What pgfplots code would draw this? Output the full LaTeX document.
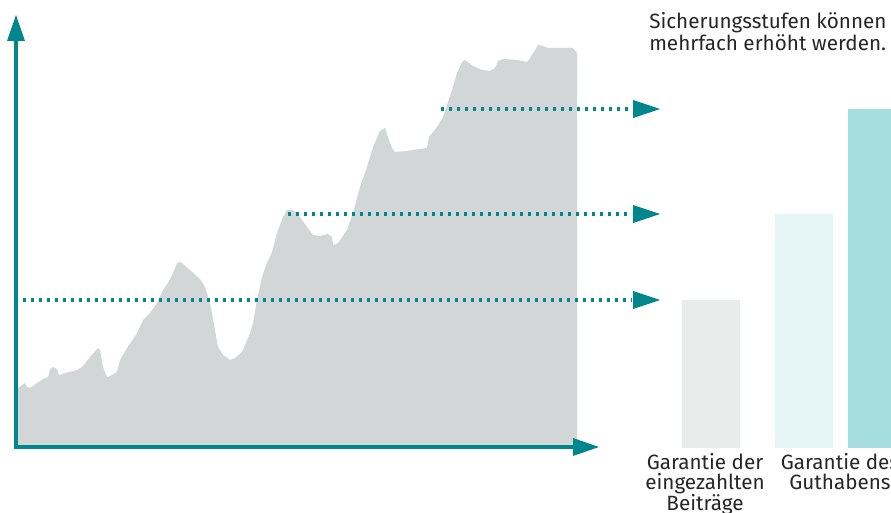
\documentclass[border=0pt]{standalone}
\usepackage{fontspec}
\setmainfont{Fira Sans}
\usepackage{pgfplots}
\pgfplotsset{compat=1.18}

\definecolor{teal}{HTML}{00878D}
\definecolor{areagray}{HTML}{D2D6D7}
\definecolor{barone}{HTML}{EAECEC}
\definecolor{bartwo}{HTML}{E5F4F5}
\definecolor{barthree}{HTML}{A5DCDD}

\begin{document}
\begin{tikzpicture}
\useasboundingbox (0,0) rectangle (668.25pt,384.75pt);
\clip (0,0) rectangle (668.25pt,384.75pt);
\begin{axis}[
    at={(0,0)}, anchor=south west,
    scale only axis,
    width=668.25pt, height=384.75pt,
    xmin=0, xmax=891, ymin=0, ymax=513,
    y dir=reverse,
    hide axis,
    clip=false,
]

% value curve (pixel coordinates, y downwards)
\addplot[fill=areagray, draw=none] coordinates {
(18,446)(18,388)(22,385)(25,383)(27,387)(30,388)(37,383)(43,379)(48,377)
(50,369)(53,367)(57,369)(59,375)(65,373)(77,370)(82,367)(90,357)(98,348)
(100,350)(103,367)(107,377)(110,376)(117,372)(120,360)(127,348)(137,333)
(143,320)(150,313)(157,303)(163,290)(168,283)(173,273)(177,263)(180,262)
(183,264)(192,272)(200,279)(205,287)(210,303)(215,330)(218,347)(223,355)
(230,360)(235,358)(242,352)(250,333)(253,323)(257,300)(262,277)(267,263)
(272,252)(277,233)(283,217)(287,210)(292,210)(297,213)(300,217)(307,227)
(313,235)(320,236)(328,234)(332,237)(333,245)(338,243)(347,230)(353,213)
(360,187)(367,167)(373,147)(380,131)(385,128)(388,137)(392,148)(395,152)
(407,151)(413,150)(427,148)(429,137)(437,127)(443,117)(452,90)(457,73)
(462,62)(465,60)(473,66)(482,70)(490,71)(495,68)(498,61)(503,59)(517,60)
(527,62)(530,58)(535,50)(538,45)(543,46)(548,48)(560,48)(573,48)(577,53)
(577,446)
} -- cycle;

% guarantee bars
\addplot[fill=barone, draw=none] coordinates {(682,448)(682,300)(740,300)(740,448)} -- cycle;
\addplot[fill=bartwo, draw=none] coordinates {(775,448)(775,214)(833,214)(833,448)} -- cycle;
\addplot[fill=barthree, draw=none] coordinates {(848,448)(848,109)(900,109)(900,448)} -- cycle;

% dotted guide lines
\addplot[teal, line width=3pt, dash pattern=on 2.25pt off 3.75pt] coordinates {(23,300)(632,300)};
\addplot[teal, line width=3pt, dash pattern=on 2.25pt off 3.75pt] coordinates {(288,214)(632,214)};
\addplot[teal, line width=3pt, dash pattern=on 2.25pt off 3.75pt] coordinates {(441,109)(632,109)};
\fill[teal] (axis cs:633,291) -- (axis cs:660,300) -- (axis cs:633,309) -- cycle;
\fill[teal] (axis cs:633,205) -- (axis cs:660,214) -- (axis cs:633,223) -- cycle;
\fill[teal] (axis cs:633,100) -- (axis cs:660,109) -- (axis cs:633,118) -- cycle;

% axes
\draw[teal, line width=3pt] (axis cs:16,449) -- (axis cs:16,40);
\fill[teal] (axis cs:7,41) -- (axis cs:16,15) -- (axis cs:25,41) -- cycle;
\draw[teal, line width=3pt] (axis cs:14,447) -- (axis cs:574,447);
\fill[teal] (axis cs:573,438) -- (axis cs:599,447) -- (axis cs:573,456) -- cycle;

% texts
\node[anchor=north west, align=left, inner sep=0pt, text=black!85,
      font=\fontsize{15.5}{16.5}\selectfont]
  at (axis cs:649,12) {Sicherungsstufen können\\mehrfach erhöht werden.};
\node[anchor=north, align=center, inner sep=0pt, text=black!85,
      font=\fontsize{15.5}{15.4}\selectfont]
  at (axis cs:705,453) {Garantie der\\eingezahlten\\Beiträge};
\node[anchor=north, align=center, inner sep=0pt, text=black!85,
      font=\fontsize{15.5}{15.4}\selectfont]
  at (axis cs:840,453) {Garantie des\\Guthabens};

\end{axis}
\end{tikzpicture}
\end{document}
